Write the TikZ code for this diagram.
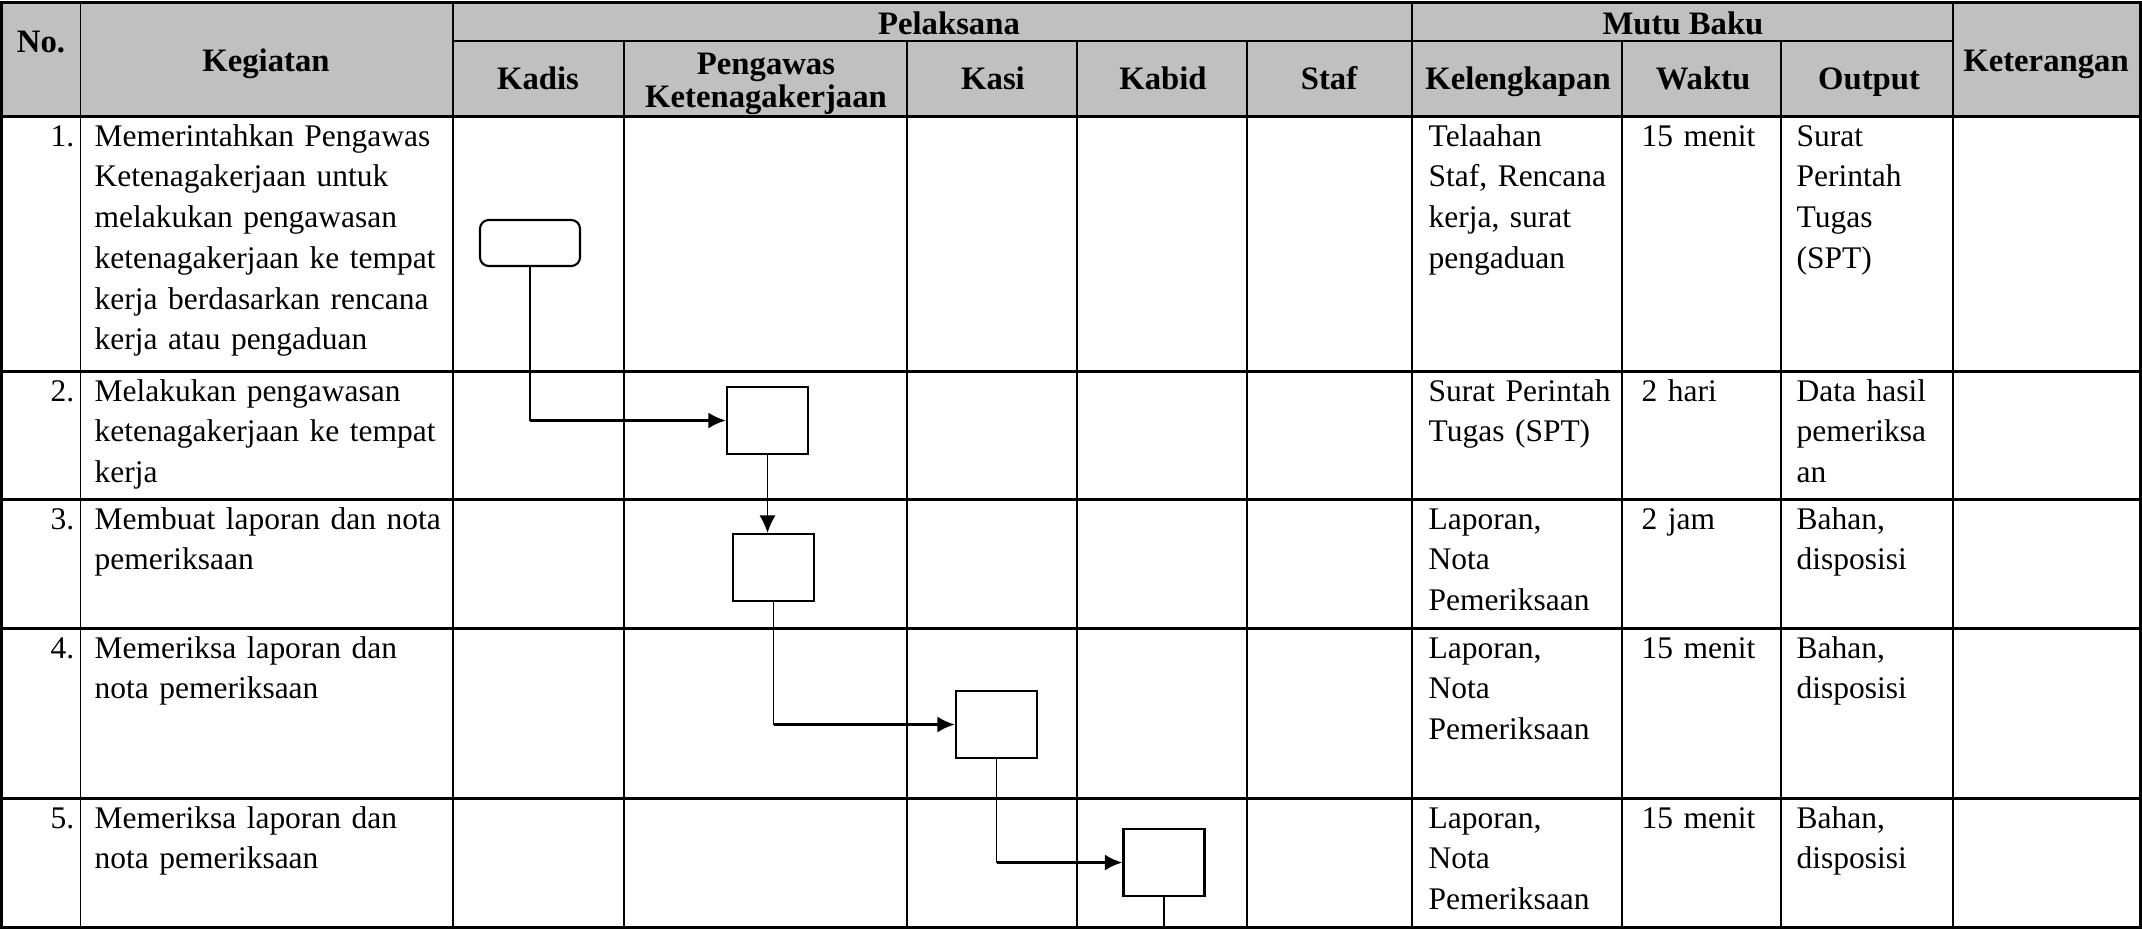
\documentclass[tikz,border=0pt]{standalone}
\usepackage{fontspec}
\setmainfont{Liberation Serif}
\usetikzlibrary{arrows.meta}
\definecolor{abuabu}{HTML}{C0C0C0}

\begin{document}
\begin{tikzpicture}[x=0.01cm, y=-0.01cm, >={Latex[length=5pt, width=4.6pt]},
    judul/.style={anchor=base, inner sep=0pt, font=\fontsize{9.3}{9.4}\selectfont\bfseries},
    isi/.style={anchor=base west, inner sep=0pt, text width=4cm, align=left, font=\fontsize{8.95}{11.6}\selectfont},
    nomor/.style={anchor=base east, inner sep=0pt, font=\fontsize{8.95}{11.6}\selectfont},
    kotak/.style={draw, line width=0.6pt, minimum width=0.81cm, minimum height=0.67cm, inner sep=0pt},
    mulai/.style={kotak, rounded corners=2.5pt, minimum width=1cm, minimum height=0.46cm},
    tipis/.style={line width=0.5pt},
    tebal/.style={line width=0.85pt},
    garis/.style={line width=0.45pt},
    panah/.style={line width=0.85pt, ->}]
    \useasboundingbox (0,0) rectangle (2142,929);

    % 1. Kepala tabel
    \fill[abuabu] (1.5,2) rectangle (2140.5,116);
    \node[judul] (hno) at (41,52) {No.};
    \node[judul] (hkeg) at (266,71) {Kegiatan};
    \node[judul] (hpel) at (949,34) {Pelaksana};
    \node[judul] (hkadis) at (538,89) {Kadis};
    \node[judul, text width=3cm, align=center] (hpeng) at (766,74) {Pengawas\\Ketenagakerjaan};
    \node[judul] (hkasi) at (993,89) {Kasi};
    \node[judul] (hkabid) at (1163,89) {Kabid};
    \node[judul] (hstaf) at (1329,89) {Staf};
    \node[judul] (hmutu) at (1683,34) {Mutu Baku};
    \node[judul] (hkel) at (1518,89) {Kelengkapan};
    \node[judul] (hwak) at (1703,89) {Waktu};
    \node[judul] (hout) at (1869,89) {Output};
    \node[judul] (hket) at (2046,71) {Keterangan};

    % 2. Garis tabel
    \draw[tipis] (80.5,2) -- (80.5,927);
    \draw[tipis] (453,2) -- (453,927);
    \draw[tipis] (1412,2) -- (1412,927);
    \draw[tipis] (1953,2) -- (1953,927);
    \draw[tipis] (453,41) -- (1953,41);
    \foreach \x in {624,907,1077,1247,1622,1781}
        \draw[tipis] (\x,41) -- (\x,927);
    \foreach \y in {116,371,499,628,798}
        \draw[tebal] (1.5,\y) -- (2140.5,\y);
    \draw[tebal] (1.5,2) rectangle (2140.5,927);

    % 3. Isi baris
    \node[nomor] (n1) at (75,146) {1.};
    \node[isi] (k1) at (94,146) {Memerintahkan Pengawas\\Ketenagakerjaan untuk\\melakukan pengawasan\\ketenagakerjaan ke tempat\\kerja berdasarkan rencana\\kerja atau pengaduan};
    \node[isi] (l1) at (1428,146) {Telaahan\\Staf, Rencana\\kerja, surat\\pengaduan};
    \node[isi] (w1) at (1641,146) {15 menit};
    \node[isi] (o1) at (1796,146) {Surat\\Perintah\\Tugas\\(SPT)};

    \node[nomor] (n2) at (75,401) {2.};
    \node[isi] (k2) at (94,401) {Melakukan pengawasan\\ketenagakerjaan ke tempat\\kerja};
    \node[isi] (l2) at (1428,401) {Surat Perintah\\Tugas (SPT)};
    \node[isi] (w2) at (1641,401) {2 hari};
    \node[isi] (o2) at (1796,401) {Data hasil\\pemeriksa\\an};

    \node[nomor] (n3) at (75,529) {3.};
    \node[isi] (k3) at (94,529) {Membuat laporan dan nota\\pemeriksaan};
    \node[isi] (l3) at (1428,529) {Laporan,\\Nota\\Pemeriksaan};
    \node[isi] (w3) at (1641,529) {2 jam};
    \node[isi] (o3) at (1796,529) {Bahan,\\disposisi};

    \node[nomor] (n4) at (75,658) {4.};
    \node[isi] (k4) at (94,658) {Memeriksa laporan dan\\nota pemeriksaan};
    \node[isi] (l4) at (1428,658) {Laporan,\\Nota\\Pemeriksaan};
    \node[isi] (w4) at (1641,658) {15 menit};
    \node[isi] (o4) at (1796,658) {Bahan,\\disposisi};

    \node[nomor] (n5) at (75,828) {5.};
    \node[isi] (k5) at (94,828) {Memeriksa laporan dan\\nota pemeriksaan};
    \node[isi] (l5) at (1428,828) {Laporan,\\Nota\\Pemeriksaan};
    \node[isi] (w5) at (1641,828) {15 menit};
    \node[isi] (o5) at (1796,828) {Bahan,\\disposisi};

    % 4. Bagan alir
    \node[mulai] (mulai) at (530,243) {};
    \node[kotak] (p1) at (767.5,420.5) {};
    \node[kotak] (p2) at (773.5,567.5) {};
    \node[kotak] (p3) at (996.5,724.5) {};
    \node[kotak] (p4) at (1164,862.5) {};
    \coordinate (akhir) at (1164,927);

    \draw[garis] (mulai.south) -- (mulai.south |- p1.west);
    \draw[panah] (mulai.south |- p1.west) -- (p1.west);
    \draw[garis,->] (p1.south) -- (p1.south |- p2.north);
    \draw[garis] (p2.south) -- (p2.south |- p3.west);
    \draw[panah] (p2.south |- p3.west) -- (p3.west);
    \draw[garis] (p3.south) -- (p3.south |- p4.west);
    \draw[panah] (p3.south |- p4.west) -- (p4.west);
    \draw[garis] (p4.south) -- (akhir);
\end{tikzpicture}
\end{document}
